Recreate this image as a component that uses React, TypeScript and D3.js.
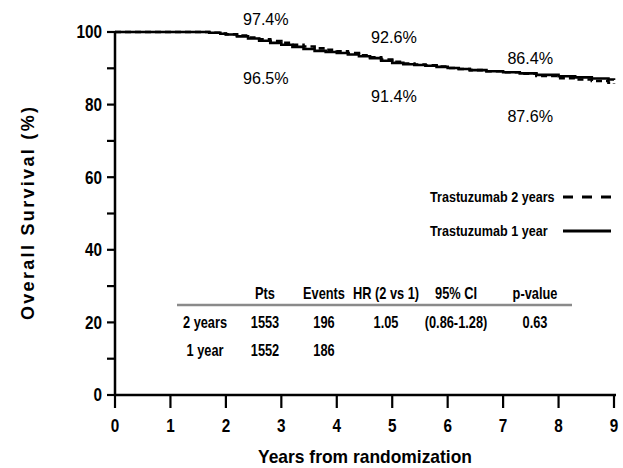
import React, { useEffect, useRef } from 'react';
import * as d3 from 'd3';

// Kaplan-Meier estimates (years, % surviving)
const oneYearTimes = [0, 1.5, 1.7, 1.9, 2.0, 2.2, 2.4, 2.6, 2.8, 3.0, 3.2, 3.4, 3.6, 3.8, 4.0, 4.2, 4.4, 4.6, 4.8, 5.0, 5.2, 5.4, 5.6, 5.8, 6.0, 6.2, 6.4, 6.7, 7.0, 7.3, 7.6, 8.0, 8.3, 8.6, 8.9, 9.0];
const oneYearSurv = [100, 100, 99.8, 99.5, 99.3, 98.8, 98.2, 97.6, 97.0, 96.5, 95.9, 95.3, 94.8, 94.5, 94.2, 93.8, 93.3, 92.8, 92.1, 91.5, 91.1, 90.9, 90.7, 90.4, 90.1, 89.8, 89.5, 89.2, 88.9, 88.6, 88.2, 87.8, 87.5, 87.2, 86.9, 86.8];

const twoYearTimes = [0, 1.5, 1.7, 1.9, 2.0, 2.2, 2.4, 2.6, 2.8, 3.0, 3.2, 3.4, 3.6, 3.8, 4.0, 4.2, 4.4, 4.6, 4.8, 5.0, 5.2, 5.4, 5.6, 5.8, 6.0, 6.2, 6.4, 6.7, 7.0, 7.3, 7.6, 8.0, 8.3, 8.6, 8.9, 9.0];
const twoYearSurv = [100, 100, 99.8, 99.6, 99.4, 99.0, 98.5, 98.0, 97.5, 97.0, 96.5, 96.0, 95.5, 95.1, 94.7, 94.2, 93.6, 93.0, 92.4, 91.8, 91.3, 91.0, 90.8, 90.5, 90.1, 89.8, 89.5, 89.2, 88.9, 88.5, 87.9, 87.3, 86.9, 86.5, 86.0, 85.8];

// percentage annotations placed in data units
const annoText = ['97.4%', '96.5%', '92.6%', '91.4%', '86.4%', '87.6%'];
const annoX = [2.72, 2.72, 5.03, 5.03, 7.49, 7.49];
const annoY = [103.6, 87.3, 98.6, 82.4, 92.8, 76.9];

const legendLabels = ['Trastuzumab 2 years', 'Trastuzumab 1 year'];

const tableHeader = ['', 'Pts', 'Events', 'HR (2 vs 1)', '95% CI', 'p-value'];
const tableRow1 = ['2 years', '1553', '196', '1.05', '(0.86-1.28)', '0.63'];
const tableRow2 = ['1 year', '1552', '186', '', '', ''];
const tableColX = [205, 265, 324, 386, 456, 535];

const xTicks = [0, 1, 2, 3, 4, 5, 6, 7, 8, 9];
const yMajor = [0, 20, 40, 60, 80, 100];
const yMinor = [10, 30, 50, 70, 90];

const sans = "'Liberation Sans', Arial, sans-serif";

type Sel = d3.Selection<SVGGElement, unknown, null, undefined> | d3.Selection<SVGSVGElement, unknown, null, undefined>;

// text squeezed horizontally to mimic a narrow font
const label = (
  parent: Sel, x: number, y: number, str: string,
  size: number, sx: number, anchor = 'middle', weight = 'bold'
) => {
  (parent as any).append('text')
    .attr('transform', `translate(${x},${y}) scale(${sx},1)`)
    .attr('dy', '0.36em')
    .attr('text-anchor', anchor)
    .attr('font-family', sans)
    .attr('font-weight', weight)
    .attr('font-size', size)
    .attr('fill', '#000')
    .text(str);
};

const App: React.FC = () => {
  const svgRef = useRef<SVGSVGElement | null>(null);

  useEffect(() => {
    if (!svgRef.current) return;
    const width = 623;
    const height = 468;
    const svg = d3.select(svgRef.current)
      .attr('width', width)
      .attr('height', height);
    svg.selectAll('*').remove();

    const x = d3.scaleLinear().domain([0, 9]).range([115, 614]);
    const y = d3.scaleLinear().domain([0, 100]).range([395, 32]);

    // curves
    const line = d3.line<[number, number]>()
      .x(d => x(d[0]))
      .y(d => y(d[1]))
      .curve(d3.curveStepAfter);

    const oneYear = oneYearTimes.map((t, i) => [t, oneYearSurv[i]] as [number, number]);
    const twoYear = twoYearTimes.map((t, i) => [t, twoYearSurv[i]] as [number, number]);

    svg.append('path').datum(oneYear)
      .attr('fill', 'none').attr('stroke', '#000').attr('stroke-width', 2.6)
      .attr('d', line);
    svg.append('path').datum(twoYear)
      .attr('fill', 'none').attr('stroke', '#000').attr('stroke-width', 2.6)
      .attr('stroke-dasharray', '6,4')
      .attr('d', line);

    // y axis
    const ya = svg.append('g');
    ya.append('line')
      .attr('x1', x(0)).attr('x2', x(0))
      .attr('y1', y(0)).attr('y2', y(100))
      .attr('stroke', '#000').attr('stroke-width', 2.5);
    ya.selectAll('line.maj').data(yMajor.concat(yMinor)).join('line')
      .attr('class', 'maj')
      .attr('x1', x(0) - 8).attr('x2', x(0) + 1)
      .attr('y1', d => y(d)).attr('y2', d => y(d))
      .attr('stroke', '#000').attr('stroke-width', 2.2);
    yMajor.forEach(v => label(ya, x(0) - 13, y(v), String(v), 18, 0.85, 'end'));

    // x axis
    const xa = svg.append('g');
    xa.append('line')
      .attr('x1', x(0) - 1).attr('x2', x(9) + 2)
      .attr('y1', y(0)).attr('y2', y(0))
      .attr('stroke', '#000').attr('stroke-width', 2.5);
    xa.selectAll('line.t').data(xTicks).join('line')
      .attr('class', 't')
      .attr('x1', d => x(d)).attr('x2', d => x(d))
      .attr('y1', y(0)).attr('y2', y(0) + 13)
      .attr('stroke', '#000').attr('stroke-width', 2.2);
    xTicks.forEach(v => label(xa, x(v), y(0) + 31, String(v), 18, 0.85));

    svg.append('text')
      .attr('x', 258).attr('y', 456)
      .attr('dy', '0.36em')
      .attr('textLength', 214).attr('lengthAdjust', 'spacingAndGlyphs')
      .attr('font-family', sans).attr('font-weight', 'bold').attr('font-size', 19)
      .text('Years from randomization');

    svg.append('text')
      .attr('transform', 'translate(28,320) rotate(-90)')
      .attr('dy', '0.36em')
      .attr('textLength', 213).attr('lengthAdjust', 'spacing')
      .attr('font-family', sans).attr('font-weight', 'bold').attr('font-size', 18)
      .text('Overall Survival (%)');

    // percentage annotations
    const an = svg.append('g');
    annoText.forEach((t, i) => label(an, x(annoX[i]), y(annoY[i]), t, 17, 0.95, 'middle', 'normal'));

    // legend
    const lg = svg.append('g');
    legendLabels.forEach((lab, i) => {
      const ly = 197 + i * 34;
      label(lg, 430, ly, lab, 15, 0.84, 'start');
      lg.append('line')
        .attr('x1', 563).attr('x2', 611).attr('y1', ly).attr('y2', ly)
        .attr('stroke', '#000').attr('stroke-width', 3)
        .attr('stroke-dasharray', i === 0 ? '10,9' : null);
    });

    // stats table
    const tb = svg.append('g');
    [tableHeader, tableRow1, tableRow2].forEach((row, r) => {
      const ty = [293, 322, 350][r];
      row.forEach((cell, c) => {
        if (cell) label(tb, tableColX[c], ty, cell, 16, 0.8);
      });
    });
    tb.append('line')
      .attr('x1', 177).attr('x2', 572).attr('y1', 305).attr('y2', 305)
      .attr('stroke', '#8a8a8a').attr('stroke-width', 2.5);
  }, []);

  return (
    <svg ref={svgRef} style={{ position: 'absolute', left: 0, top: 0, background: '#fff' }}></svg>
  );
};

export default App;
